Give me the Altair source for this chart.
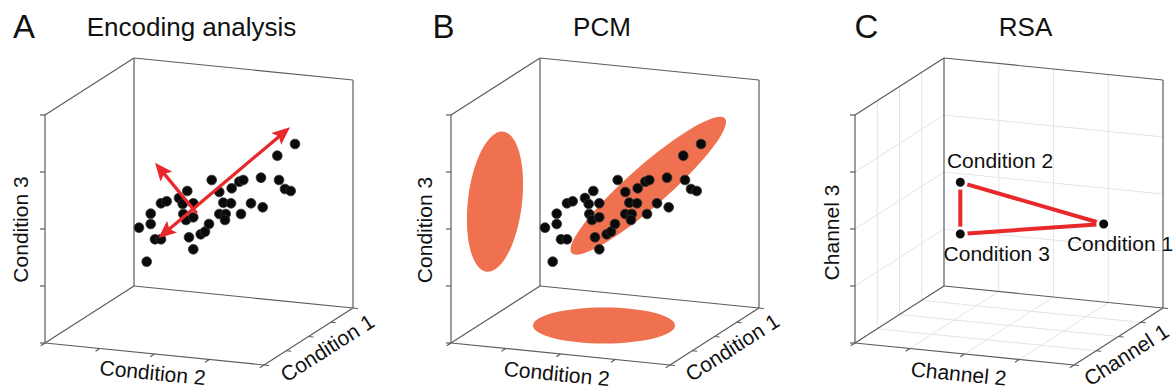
import math
import altair as alt
import pandas as pd

W, H = 1173, 392

# ---------------- data (chart units; x is relative to each panel's box corner) ----------------
PANELS = ["A", "B", "C"]
PANEL_TITLES = ["Encoding analysis", "PCM", "RSA"]
AXIS_NAMES = [
    ["Condition 3", "Condition 2", "Condition 1"],
    ["Condition 3", "Condition 2", "Condition 1"],
    ["Channel 3", "Channel 2", "Channel 1"],
]

# measurement scatter (shown in A and B)
SCATTER_X = [94, 105.7, 105.7, 101.7, 110, 116, 116, 121.7, 134, 142.3, 137.7, 138.3, 148.3,
             141, 148.3, 144, 148.3, 155.7, 160, 164, 166.7, 174.3, 178.3, 174.3, 180.7, 180,
             186.7, 186, 194.3, 198.3, 196, 206, 216, 217.7, 232.3, 234, 240, 245.7, 250]
SCATTER_Y = [227.7, 213.7, 224, 261.7, 239.3, 239.3, 203.3, 201.3, 198, 191, 204, 214, 203.3,
             220, 217.3, 237.3, 249.3, 234.3, 231.7, 224, 180, 192, 202.7, 214, 214, 220,
             188.3, 203.3, 181.7, 180, 214, 203.3, 177.7, 207.3, 155.7, 180, 189, 191, 144]

# encoding-analysis directions (panel A): start, end, heads
ARROW_X1 = [113.3, 151.7]
ARROW_Y1 = [238.3, 213.3]
ARROW_X2 = [245.0, 110.0]
ARROW_Y2 = [127.3, 162.7]
ARROW_HEAD_START = [True, False]
ARROW_HEAD_END = [True, True]

# PCM ellipses (panel B): centre, semi-axes, rotation
ELL_X = [197.3, 44.0, 153.0]
ELL_Y = [185.8, 201.7, 325.5]
ELL_A = [102.0, 70.5, 71.0]
ELL_B = [20.0, 27.0, 18.0]
ELL_ANGLE = [318.7, 276.8, 0.0]

# RSA conditions (panel C)
COND_NAMES = ["Condition 1", "Condition 2", "Condition 3"]
COND_X = [248.7, 105.3, 105.3]
COND_Y = [224.0, 182.3, 234.0]
COND_LABEL_X = [265.0, 145.0, 141.7]
COND_LABEL_Y = [244.0, 161.0, 254.0]
RSA_PAIRS = [(1, 0), (2, 0), (1, 2)]

TICKS = [0, 0.25, 0.5, 0.75, 1]
GRID = [0.25, 0.5, 0.75]

# ---------------- geometry of the projected boxes ----------------
PANEL_X0 = [45, 451, 855]
BASE_Y = 343
EU = (219, 22)
ED = (89, -57)
EZ = (0, -228)


def proj(p, u, d, z):
    return (PANEL_X0[p] + u * EU[0] + d * ED[0] + z * EZ[0],
            BASE_Y + u * EU[1] + d * ED[1] + z * EZ[1])


def unit(v):
    n = math.hypot(*v)
    return (v[0] / n, v[1] / n)


BOX_EDGES = [((0, 1, 0), (1, 1, 0)), ((1, 1, 0), (1, 1, 1)), ((1, 1, 1), (0, 1, 1)),
             ((0, 1, 1), (0, 1, 0)), ((0, 0, 0), (0, 0, 1)), ((0, 0, 1), (0, 1, 1)),
             ((0, 0, 0), (0, 1, 0)), ((0, 0, 0), (1, 0, 0)), ((1, 0, 0), (1, 1, 0))]

box_rows, tick_rows, grid_rows = [], [], []
TL = 5
du = unit((-ED[0], -ED[1]))
dd = unit(EU)
for p in range(3):
    for a, b in BOX_EDGES:
        pa, pb = proj(p, *a), proj(p, *b)
        box_rows.append(dict(x=pa[0], y=pa[1], x2=pb[0], y2=pb[1]))
    for t in TICKS:
        s = proj(p, 0, 0, t)
        tick_rows.append(dict(x=s[0], y=s[1], x2=s[0] - TL, y2=s[1]))
        s = proj(p, t, 0, 0)
        tick_rows.append(dict(x=s[0], y=s[1], x2=s[0] + du[0] * TL, y2=s[1] + du[1] * TL))
        s = proj(p, 1, t, 0)
        tick_rows.append(dict(x=s[0], y=s[1], x2=s[0] + dd[0] * TL, y2=s[1] + dd[1] * TL))

for k in GRID:
    for a, b in [((k, 1, 0), (k, 1, 1)), ((0, 1, k), (1, 1, k)),
                 ((0, k, 0), (0, k, 1)), ((0, 0, k), (0, 1, k)),
                 ((0, k, 0), (1, k, 0)), ((k, 0, 0), (k, 1, 0))]:
        pa, pb = proj(2, *a), proj(2, *b)
        grid_rows.append(dict(x=pa[0], y=pa[1], x2=pb[0], y2=pb[1]))

# scatter in A and B
pts = []
for p in (0, 1):
    for x, y in zip(SCATTER_X, SCATTER_Y):
        pts.append(dict(x=PANEL_X0[p] + x, y=y))

# ellipses
K = 0.5523


def ellipse_path(r):
    return (f"M1,0C1,{K*r:.4f} {K:.4f},{r:.4f} 0,{r:.4f}"
            f"C{-K:.4f},{r:.4f} -1,{K*r:.4f} -1,0"
            f"C-1,{-K*r:.4f} {-K:.4f},{-r:.4f} 0,{-r:.4f}"
            f"C{K:.4f},{-r:.4f} 1,{-K*r:.4f} 1,0Z")


ell = [dict(x=PANEL_X0[1] + x, y=y, shape=ellipse_path(b / a), size=(2 * a) ** 2, angle=ang)
       for x, y, a, b, ang in zip(ELL_X, ELL_Y, ELL_A, ELL_B, ELL_ANGLE)]

# arrows
HEAD_LEN = 18.0
HEAD_PATH = "M0,0L0.85,2L0,1.6L-0.85,2Z"
shaft, heads = [], []
for x1, y1, x2, y2, hs, he in zip(ARROW_X1, ARROW_Y1, ARROW_X2, ARROW_Y2,
                                  ARROW_HEAD_START, ARROW_HEAD_END):
    x1 += PANEL_X0[0]
    x2 += PANEL_X0[0]
    ux, uy = unit((x2 - x1, y2 - y1))
    sx1, sy1, sx2, sy2 = x1, y1, x2, y2
    if hs:
        sx1, sy1 = x1 + ux * HEAD_LEN * 0.7, y1 + uy * HEAD_LEN * 0.7
        heads.append(dict(x=x1, y=y1, angle=math.degrees(math.atan2(-ux, uy)) % 360))
    if he:
        sx2, sy2 = x2 - ux * HEAD_LEN * 0.7, y2 - uy * HEAD_LEN * 0.7
        heads.append(dict(x=x2, y=y2, angle=math.degrees(math.atan2(ux, -uy)) % 360))
    shaft.append(dict(x=sx1, y=sy1, x2=sx2, y2=sy2))

# RSA
rsa_lines = [dict(x=PANEL_X0[2] + COND_X[i], y=COND_Y[i], x2=PANEL_X0[2] + COND_X[j], y2=COND_Y[j])
             for i, j in RSA_PAIRS]
rsa_pts = [dict(x=PANEL_X0[2] + x, y=y) for x, y in zip(COND_X, COND_Y)]

# texts
LETTER_X = [24, 443.5, 866.5]
TITLE_X = [191.5, 602, 1025.5]
AXLAB = [  # (dx, y) for vertical, horizontal, depth label
    [(-23, 229.5), (107.5, 374), (283, 349)],
    [(-25, 230), (105.7, 375), (282, 348.5)],
    [(-22, 232.5), (103.5, 375), (272, 356)],
]
ang_u = math.degrees(math.atan2(EU[1], EU[0])) % 360
ang_d = math.degrees(math.atan2(ED[1], ED[0])) % 360
texts = []
for p in range(3):
    texts.append(dict(text=PANELS[p], x=LETTER_X[p], y=27.5, angle=0, fs=33))
    texts.append(dict(text=PANEL_TITLES[p], x=TITLE_X[p], y=28, angle=0, fs=26))
    for (dx, y), name, ang in zip(AXLAB[p], AXIS_NAMES[p], [270, ang_u, ang_d]):
        texts.append(dict(text=name, x=PANEL_X0[p] + dx, y=y, angle=ang, fs=21))
for name, x, y in zip(COND_NAMES, COND_LABEL_X, COND_LABEL_Y):
    texts.append(dict(text=name, x=PANEL_X0[2] + x, y=y + 1, angle=0, fs=21))

# ---------------- chart ----------------
xs = alt.Scale(domain=[0, W])
ys = alt.Scale(domain=[0, H], reverse=True)
X = alt.X("x:Q", scale=xs, axis=None)
Y = alt.Y("y:Q", scale=ys, axis=None)


def rules(rows, **kw):
    return alt.Chart(pd.DataFrame(rows)).mark_rule(**kw).encode(x=X, y=Y, x2="x2:Q", y2="y2:Q")


layers = [
    rules(grid_rows, color="#e4e4e4", strokeWidth=1),
    rules(box_rows, color="#5c5c5c", strokeWidth=1.2),
    rules(tick_rows, color="#5c5c5c", strokeWidth=1.2),
    alt.Chart(pd.DataFrame(ell)).mark_point(filled=True, opacity=1, color="#f0714f", strokeWidth=0).encode(
        x=X, y=Y, shape=alt.Shape("shape:N", scale=None), size=alt.Size("size:Q", scale=None),
        angle=alt.Angle("angle:Q", scale=None)),
    alt.Chart(pd.DataFrame(pts)).mark_circle(size=95, color="#0a0a0a", opacity=1,
                                             stroke="#333333", strokeWidth=0.8).encode(x=X, y=Y),
    rules(shaft, color="#e8282b", strokeWidth=3.3),
    alt.Chart(pd.DataFrame(heads)).mark_point(filled=True, opacity=1, color="#e8282b", shape=HEAD_PATH,
                                              size=(HEAD_LEN) ** 2, strokeWidth=0).encode(
        x=X, y=Y, angle=alt.Angle("angle:Q", scale=None)),
    rules(rsa_lines, color="#e8282b", strokeWidth=4),
    alt.Chart(pd.DataFrame(rsa_pts)).mark_circle(size=144, color="#0a0a0a", opacity=1,
                                                 stroke="white", strokeWidth=3).encode(x=X, y=Y),
    alt.Chart(pd.DataFrame(texts)).mark_text(font="Liberation Sans", align="center", baseline="middle",
                                             color="#111111").encode(
        x=X, y=Y, text="text:N", size=alt.Size("fs:Q", scale=None),
        angle=alt.Angle("angle:Q", scale=None)),
]

chart = alt.layer(*layers).properties(
    width=W, height=H, autosize=alt.AutoSizeParams(type="none"), padding=0
).configure_view(stroke=None)

chart.save("out.html", embed_options={"renderer": "svg", "actions": False})
